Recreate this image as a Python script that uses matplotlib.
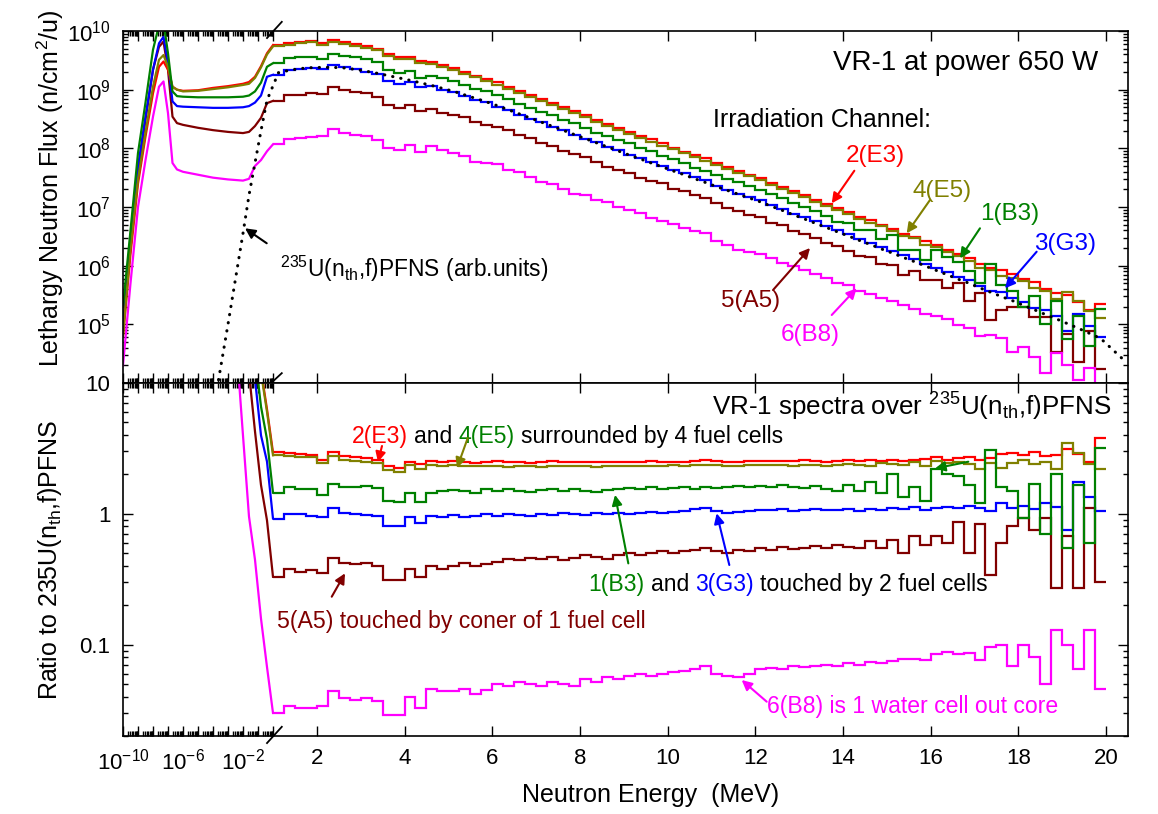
import numpy as np
import matplotlib
matplotlib.use("Agg")
import matplotlib.pyplot as plt
from matplotlib.ticker import FixedLocator, FixedFormatter, LogLocator, NullFormatter

plt.rcParams['font.family'] = ['Liberation Sans', 'DejaVu Sans']
plt.rcParams['mathtext.fontset'] = 'custom'
plt.rcParams['mathtext.rm'] = 'Liberation Sans'
plt.rcParams['mathtext.it'] = 'Liberation Sans:italic'
plt.rcParams['mathtext.bf'] = 'Liberation Sans:bold'
plt.rcParams['mathtext.default'] = 'regular'

# ---------------- data ----------------
# low-energy grid (log10 of E in MeV), values are log10 of lethargy flux
low_logE = [-10, -9.5, -9, -8.5, -8, -7.6, -7.3, -7.0, -6.7, -6.4, -6.0, -5.0, -4.0, -3.0, -2.0, -1.6, -1.2, -0.8, -0.4]
red_low     = [4.8, 6.2, 7.40, 8.20, 8.94, 9.39, 9.48, 9.34, 9.05, 9.00, 8.98, 8.99, 9.03, 9.06, 9.10, 9.13, 9.22, 9.40, 9.62]
olive_low   = [4.8, 6.3, 7.47, 8.27, 9.05, 9.51, 9.59, 9.39, 9.05, 9.00, 8.97, 8.98, 9.01, 9.04, 9.08, 9.10, 9.20, 9.38, 9.60]
green_low   = [5.3, 6.6, 7.92, 8.78, 9.68, 10.1, 10.15, 9.62, 8.97, 8.89, 8.88, 8.87, 8.87, 8.87, 8.88, 8.90, 8.97, 9.12, 9.39]
blue_low    = [4.9, 6.4, 7.69, 8.54, 9.34, 9.79, 9.90, 9.45, 8.80, 8.72, 8.71, 8.70, 8.69, 8.69, 8.70, 8.72, 8.78, 8.90, 9.22]
brown_low   = [5.0, 6.3, 7.58, 8.49, 9.34, 9.73, 9.82, 9.34, 8.54, 8.43, 8.40, 8.35, 8.31, 8.28, 8.26, 8.28, 8.38, 8.52, 8.77]
magenta_low = [4.3, 5.7, 7.00, 7.80, 8.54, 9.05, 9.14, 8.60, 7.75, 7.64, 7.60, 7.55, 7.50, 7.47, 7.45, 7.48, 7.70, 7.80, 7.95]
nan = float('nan')
pfns_low = [nan] * 12 + [3.5, 5.0, 6.55, 7.2, 7.75, 8.3, 8.82]

# fast region: 0.25 MeV bins from 1 to 20 MeV
bin_start = 1.0
bin_width = 0.25
pfns_fast = [9.29, 9.33, 9.36, 9.375, 9.38, 9.38, 9.37, 9.345, 9.315, 9.28,
             9.24, 9.20, 9.16, 9.115, 9.07, 9.02,
             8.97, 8.91, 8.85, 8.79, 8.725, 8.655, 8.585, 8.515, 8.445, 8.375,
             8.305, 8.235, 8.165, 8.095, 8.025, 7.955, 7.886, 7.82, 7.75, 7.685,
             7.615, 7.55, 7.48, 7.415, 7.345, 7.28, 7.215, 7.15,
             7.085, 7.01, 6.94, 6.865, 6.795, 6.72, 6.65, 6.575, 6.505, 6.43, 6.36, 6.285,
             6.215, 6.14, 6.07, 5.995, 5.92, 5.845, 5.77, 5.70, 5.62, 5.545,
             5.47, 5.40, 5.32, 5.245, 5.165, 5.09, 5.01, 4.93, 4.845, 4.76]
pfns_end_E = 20.45
pfns_end = 4.36

red_ratio = [2.95, 2.90, 2.85, 2.80, 2.60, 2.95, 2.75, 2.70, 2.65, 2.60,
             2.30, 2.25, 2.50, 2.40, 2.55, 2.50,
             2.55, 2.50, 2.45, 2.50, 2.52, 2.48, 2.50, 2.45, 2.50, 2.52,
             2.48, 2.50, 2.50, 2.47, 2.50, 2.50, 2.48, 2.50, 2.52, 2.50,
             2.50, 2.48, 2.52, 2.60, 2.55, 2.50, 2.50, 2.52,
             2.55, 2.55, 2.52, 2.55, 2.58, 2.55, 2.50, 2.55, 2.58, 2.55, 2.60, 2.55,
             2.60, 2.55, 2.60, 2.62, 2.70, 2.60, 2.65, 2.70, 2.60, 2.65,
             2.85, 2.90, 2.80, 2.95, 2.75, 2.80, 3.15, 2.85, 2.50, 3.80]
olive_ratio = [2.80, 2.75, 2.70, 2.70, 2.45, 2.75, 2.60, 2.55, 2.50, 2.45,
               2.15, 2.10, 2.35, 2.20, 2.35, 2.30,
               2.35, 2.30, 2.30, 2.32, 2.30, 2.28, 2.32, 2.30, 2.28, 2.30,
               2.32, 2.30, 2.30, 2.28, 2.30, 2.32, 2.30, 2.30, 2.32, 2.30,
               2.35, 2.33, 2.35, 2.38, 2.35, 2.30, 2.32, 2.35,
               2.38, 2.35, 2.35, 2.32, 2.38, 2.35, 2.30, 2.35, 2.40, 2.35, 2.30, 2.45,
               2.40, 2.35, 2.50, 2.30, 2.55, 2.45, 2.50, 2.40, 2.20, 2.45,
               2.25, 2.45, 2.60, 2.40, 2.50, 2.20, 3.50, 2.90, 2.40, 2.20]
green_ratio = [1.45, 1.60, 1.55, 1.55, 1.40, 1.70, 1.60, 1.60, 1.62, 1.58,
               1.25, 1.22, 1.45, 1.22, 1.45, 1.50,
               1.52, 1.50, 1.45, 1.55, 1.50, 1.55, 1.50, 1.48, 1.52, 1.55,
               1.50, 1.55, 1.50, 1.48, 1.52, 1.55, 1.58, 1.55, 1.60, 1.55,
               1.58, 1.60, 1.55, 1.60, 1.58, 1.60, 1.62, 1.60,
               1.62, 1.60, 1.65, 1.60, 1.58, 1.62, 1.55, 1.50, 1.65, 1.50, 1.75, 1.45,
               2.00, 1.35, 1.60, 1.25, 2.20, 2.00, 1.95, 1.65, 1.20, 3.10,
               1.60, 1.50, 0.93, 1.70, 0.70, 2.00, 0.55, 1.65, 0.60, 3.20]
blue_ratio = [0.92, 1.00, 1.00, 0.97, 0.95, 1.10, 1.02, 1.00, 0.98, 0.97,
              0.80, 0.80, 0.95, 0.85, 0.97, 0.95,
              0.98, 0.95, 0.96, 1.00, 0.97, 1.00, 0.98, 0.97, 1.00, 0.98,
              1.02, 1.00, 0.98, 1.02, 1.00, 1.02, 1.00, 1.02, 1.03, 1.02,
              1.03, 1.05, 1.08, 1.10, 1.05, 1.02, 1.03, 1.05,
              1.07, 1.06, 1.08, 1.05, 1.07, 1.08, 1.06, 1.07, 1.08, 1.05, 1.08, 1.07,
              1.10, 1.08, 1.12, 1.07, 1.10, 1.12, 1.10, 1.15, 1.10, 1.05,
              1.20, 1.10, 1.15, 1.08, 1.20, 1.12, 0.75, 1.75, 1.35, 1.05]
brown_ratio = [0.33, 0.38, 0.36, 0.37, 0.35, 0.46, 0.42, 0.41, 0.42, 0.40,
               0.31, 0.31, 0.38, 0.33, 0.40, 0.38,
               0.40, 0.42, 0.40, 0.41, 0.43, 0.45, 0.44, 0.46, 0.45, 0.47,
               0.44, 0.46, 0.48, 0.47, 0.45, 0.48, 0.50, 0.48, 0.50, 0.52,
               0.50, 0.52, 0.53, 0.55, 0.52, 0.50, 0.53, 0.52,
               0.55, 0.53, 0.56, 0.54, 0.55, 0.57, 0.55, 0.58, 0.56, 0.55, 0.62, 0.55,
               0.63, 0.50, 0.68, 0.58, 0.68, 0.60, 0.87, 0.50, 0.83, 0.34,
               0.60, 0.80, 0.93, 0.75, 0.93, 0.27, 0.68, 0.27, 1.10, 0.30]
magenta_ratio = [0.030, 0.034, 0.033, 0.033, 0.034, 0.044, 0.039, 0.038, 0.039, 0.037,
                 0.029, 0.029, 0.040, 0.033, 0.046, 0.044,
                 0.044, 0.046, 0.042, 0.045, 0.050, 0.048, 0.052, 0.050, 0.048, 0.052,
                 0.050, 0.048, 0.055, 0.052, 0.057, 0.055, 0.058, 0.060, 0.058, 0.060,
                 0.062, 0.063, 0.065, 0.068, 0.060, 0.058, 0.057, 0.060,
                 0.065, 0.066, 0.065, 0.068, 0.067, 0.068, 0.070, 0.068, 0.072, 0.070, 0.073, 0.072,
                 0.075, 0.077, 0.078, 0.076, 0.085, 0.088, 0.084, 0.086, 0.076, 0.095,
                 0.100, 0.068, 0.100, 0.080, 0.050, 0.130, 0.100, 0.065, 0.130, 0.046]

channel_names = ['5(A5)', '6(B8)', '3(G3)', '2(E3)', '4(E5)', '1(B3)']
channel_colors = ['#800000', '#ff00ff', '#0000ff', '#ff0000', '#808000', '#008000']
channel_low = [brown_low, magenta_low, blue_low, red_low, olive_low, green_low]
channel_ratio = [brown_ratio, magenta_ratio, blue_ratio, red_ratio, olive_ratio, green_ratio]
channel_norm = [1.0, 2.0, 1.0, 1.0, 1.0, 1.0]   # top-panel normalisation of each channel

RED, OLIVE, GREEN, BLUE, BROWN, MAG = '#ff0000', '#808000', '#008000', '#0000ff', '#800000', '#ff00ff'

# ---------------- broken energy scale ----------------
K = 15.0 / 43.85   # width of one decade (log part) in MeV of the linear part


def fwd(E):
    E = np.asarray(E, dtype=float)
    with np.errstate(all='ignore'):
        lg = np.log10(np.clip(E, 1e-300, None))
        return np.where(E <= 1.0, (lg + 10.0) * K, 10.0 * K + (E - 1.0))


def inv(p):
    p = np.asarray(p, dtype=float)
    with np.errstate(all='ignore'):
        return np.where(p <= 10.0 * K, 10.0 ** (np.clip(p, -50, 10 * K) / K - 10.0), p - 10.0 * K + 1.0)


fig = plt.figure(figsize=(11.58, 8.14), dpi=100)
axT = fig.add_axes([123 / 1158, 1 - 383 / 814, 1005 / 1158, 352 / 814])
axB = fig.add_axes([123 / 1158, 1 - 736 / 814, 1005 / 1158, 353 / 814])

low_E = 10.0 ** np.array(low_logE)
edges = bin_start + bin_width * np.arange(len(pfns_fast) + 1)
centers = 0.5 * (edges[:-1] + edges[1:])
pf_fast = 10.0 ** np.array(pfns_fast)
pf_low = 10.0 ** np.array(pfns_low)
valid = ~np.isnan(np.array(pfns_low))

for low, ratio, norm, col in zip(channel_low, channel_ratio, channel_norm, channel_colors):
    ratio = np.array(ratio)
    flux_fast = ratio * norm * pf_fast
    flux_low = 10.0 ** np.array(low)
    # top panel
    axT.plot(np.append(low_E, 1.0), np.append(flux_low, flux_fast[0]), color=col, lw=1.6)
    axT.stairs(flux_fast, edges, baseline=None, color=col, lw=1.6)
    # bottom panel
    r_low = flux_low[valid] / (norm * pf_low[valid])
    axB.plot(np.append(low_E[valid], 1.0), np.append(r_low, ratio[0]), color=col, lw=1.6)
    axB.stairs(ratio, edges, baseline=None, color=col, lw=1.6)

# PFNS dotted curve
pf_E = np.concatenate([low_E[valid], centers, [pfns_end_E]])
pf_V = np.concatenate([pf_low[valid], pf_fast, [10.0 ** pfns_end]])
axT.plot(pf_E, pf_V, color='black', lw=2.2, linestyle=(0, (0.1, 2.6)), dash_capstyle='round')

# ---------------- axes formatting ----------------
dec = [10.0 ** d for d in range(-10, 1)]
dec_lab = {-10: '$10^{-10}$', -6: '$10^{-6}$', -2: '$10^{-2}$'}
lin = list(range(2, 21, 2))
xmaj = dec + lin
xlab = [dec_lab.get(d, '') for d in range(-10, 1)] + [str(v) for v in lin]
xmin = [m * 10.0 ** d for d in range(-10, 0) for m in range(2, 10)]

for ax in (axT, axB):
    ax.set_xscale('function', functions=(fwd, inv))
    ax.set_xlim(1e-10, 20.5)
    ax.set_yscale('log')
    ax.xaxis.set_major_locator(FixedLocator(xmaj))
    ax.xaxis.set_major_formatter(FixedFormatter(xlab))
    ax.xaxis.set_minor_locator(FixedLocator(xmin))
    ax.xaxis.set_minor_formatter(NullFormatter())
    ax.tick_params(which='both', direction='in', top=True, right=True, width=1.0,
                   labelsize=16, pad=9)
    ax.tick_params(which='major', length=7)
    ax.tick_params(which='minor', length=3.5)
    for s in ax.spines.values():
        s.set_linewidth(1.2)
    ax.yaxis.set_minor_locator(LogLocator(base=10, subs=np.arange(2, 10), numticks=30))
    ax.yaxis.set_minor_formatter(NullFormatter())

axT.set_ylim(1e4, 1e10)
ytop = [10.0 ** d for d in range(4, 11)]
axT.yaxis.set_major_locator(FixedLocator(ytop))
axT.yaxis.set_major_formatter(FixedFormatter([''] + ['$10^{%d}$' % d for d in range(5, 11)]))
axT.tick_params(labelbottom=False)

axB.set_ylim(0.02, 10)
axB.yaxis.set_major_locator(FixedLocator([0.1, 1, 10]))
axB.yaxis.set_major_formatter(FixedFormatter(['0.1', '1', '10']))

# break marks
for ax, ys in ((axT, [(0.980, 1.026), (-0.011, 0.028)]), (axB, [(-0.020, 0.026)])):
    for y0, y1 in ys:
        ax.plot([0.1433, 0.158], [y0, y1], transform=ax.transAxes, color='black',
                lw=1.3, clip_on=False)

# labels
fig.text(50 / 1158, 1 - 188 / 814, 'Lethargy Neutron Flux (n/cm$^{2}$/u)', rotation=90,
         ha='center', va='center', fontsize=18)
fig.text(50 / 1158, 1 - 560 / 814, 'Ratio to 235U(n$_{th}$,f)PFNS', rotation=90,
         ha='center', va='center', fontsize=18)
fig.text(651 / 1158, 1 - 795 / 814, 'Neutron Energy  (MeV)', ha='center', va='center', fontsize=18)

FS_TOP = 17.5
FS_BOT = 16.6


def arrow(ax, tail, head, col):
    ax.annotate('', xy=head, xytext=tail, xycoords='axes fraction', textcoords='axes fraction',
                arrowprops=dict(arrowstyle='-|>', color=col, lw=1.5, mutation_scale=15,
                                shrinkA=0, shrinkB=0))


# top panel texts
axT.text(0.970, 0.889, 'VR-1 at power 650 W', transform=axT.transAxes, ha='right', va='baseline', fontsize=20)
axT.text(0.587, 0.727, 'Irradiation Channel:', transform=axT.transAxes, ha='left', va='baseline', fontsize=18)
axT.text(0.749, 0.628, '2(E3)', color=RED, transform=axT.transAxes, ha='center', va='baseline', fontsize=FS_TOP)
axT.text(0.815, 0.528, '4(E5)', color=OLIVE, transform=axT.transAxes, ha='center', va='baseline', fontsize=FS_TOP)
axT.text(0.8826, 0.463, '1(B3)', color=GREEN, transform=axT.transAxes, ha='center', va='baseline', fontsize=FS_TOP)
axT.text(0.9378, 0.378, '3(G3)', color=BLUE, transform=axT.transAxes, ha='center', va='baseline', fontsize=FS_TOP)
axT.text(0.624, 0.216, '5(A5)', color=BROWN, transform=axT.transAxes, ha='center', va='baseline', fontsize=FS_TOP)
axT.text(0.6836, 0.119, '6(B8)', color=MAG, transform=axT.transAxes, ha='center', va='baseline', fontsize=FS_TOP)
axT.text(0.156, 0.301, '$^{235}$U(n$_{th}$,f)PFNS (arb.units)', transform=axT.transAxes,
         ha='left', va='baseline', fontsize=16.4)
arrow(axT, (0.7277, 0.603), (0.7052, 0.5105), RED)
arrow(axT, (0.803, 0.520), (0.7798, 0.4253), OLIVE)
arrow(axT, (0.8527, 0.4395), (0.8328, 0.3543), GREEN)
arrow(axT, (0.9091, 0.373), (0.8776, 0.269), BLUE)
arrow(axT, (0.6468, 0.2642), (0.6836, 0.3835), BROWN)
arrow(axT, (0.7052, 0.1932), (0.7300, 0.269), MAG)
arrow(axT, (0.143, 0.397), (0.1214, 0.4395), 'black')


def colored_line(ax, x, y, parts, fs):
    t = ax.text(x, y, parts[0][0], color=parts[0][1], transform=ax.transAxes,
                ha='left', va='baseline', fontsize=fs)
    for s, c in parts[1:]:
        t = ax.annotate(s, xy=(1, 0), xycoords=t, xytext=(0.278 * fs, 0), textcoords='offset points',
                        color=c, ha='left', va='bottom', fontsize=fs)


axB.text(0.983, 0.909, 'VR-1 spectra over $^{235}$U(n$_{th}$,f)PFNS', transform=axB.transAxes,
         ha='right', va='baseline', fontsize=18.7)
colored_line(axB, 0.2276, 0.830, [('2(E3)', RED), ('and', 'black'), ('4(E5)', GREEN),
                                  ('surrounded by 4 fuel cells', 'black')], FS_BOT)
colored_line(axB, 0.4627, 0.4116, [('1(B3)', GREEN), ('and', 'black'), ('3(G3)', BLUE),
                                   ('touched by 2 fuel cells', 'black')], FS_BOT)
axB.text(0.153, 0.306, '5(A5) touched by coner of 1 fuel cell', color=BROWN, transform=axB.transAxes,
         ha='left', va='baseline', fontsize=FS_BOT)
axB.text(0.6405, 0.065, '6(B8) is 1 water cell out core', color=MAG, transform=axB.transAxes,
         ha='left', va='baseline', fontsize=FS_BOT)
arrow(axB, (0.2577, 0.8215), (0.2537, 0.776), RED)
arrow(axB, (0.343, 0.844), (0.3323, 0.759), OLIVE)
arrow(axB, (0.5028, 0.489), (0.4896, 0.683), GREEN)
arrow(axB, (0.6033, 0.4844), (0.5907, 0.6308), BLUE)
arrow(axB, (0.8411, 0.777), (0.808, 0.758), GREEN)
arrow(axB, (0.2077, 0.3946), (0.2209, 0.4608), BROWN)
arrow(axB, (0.6405, 0.0972), (0.6156, 0.1586), MAG)

fig.savefig('out.png', dpi=100)
